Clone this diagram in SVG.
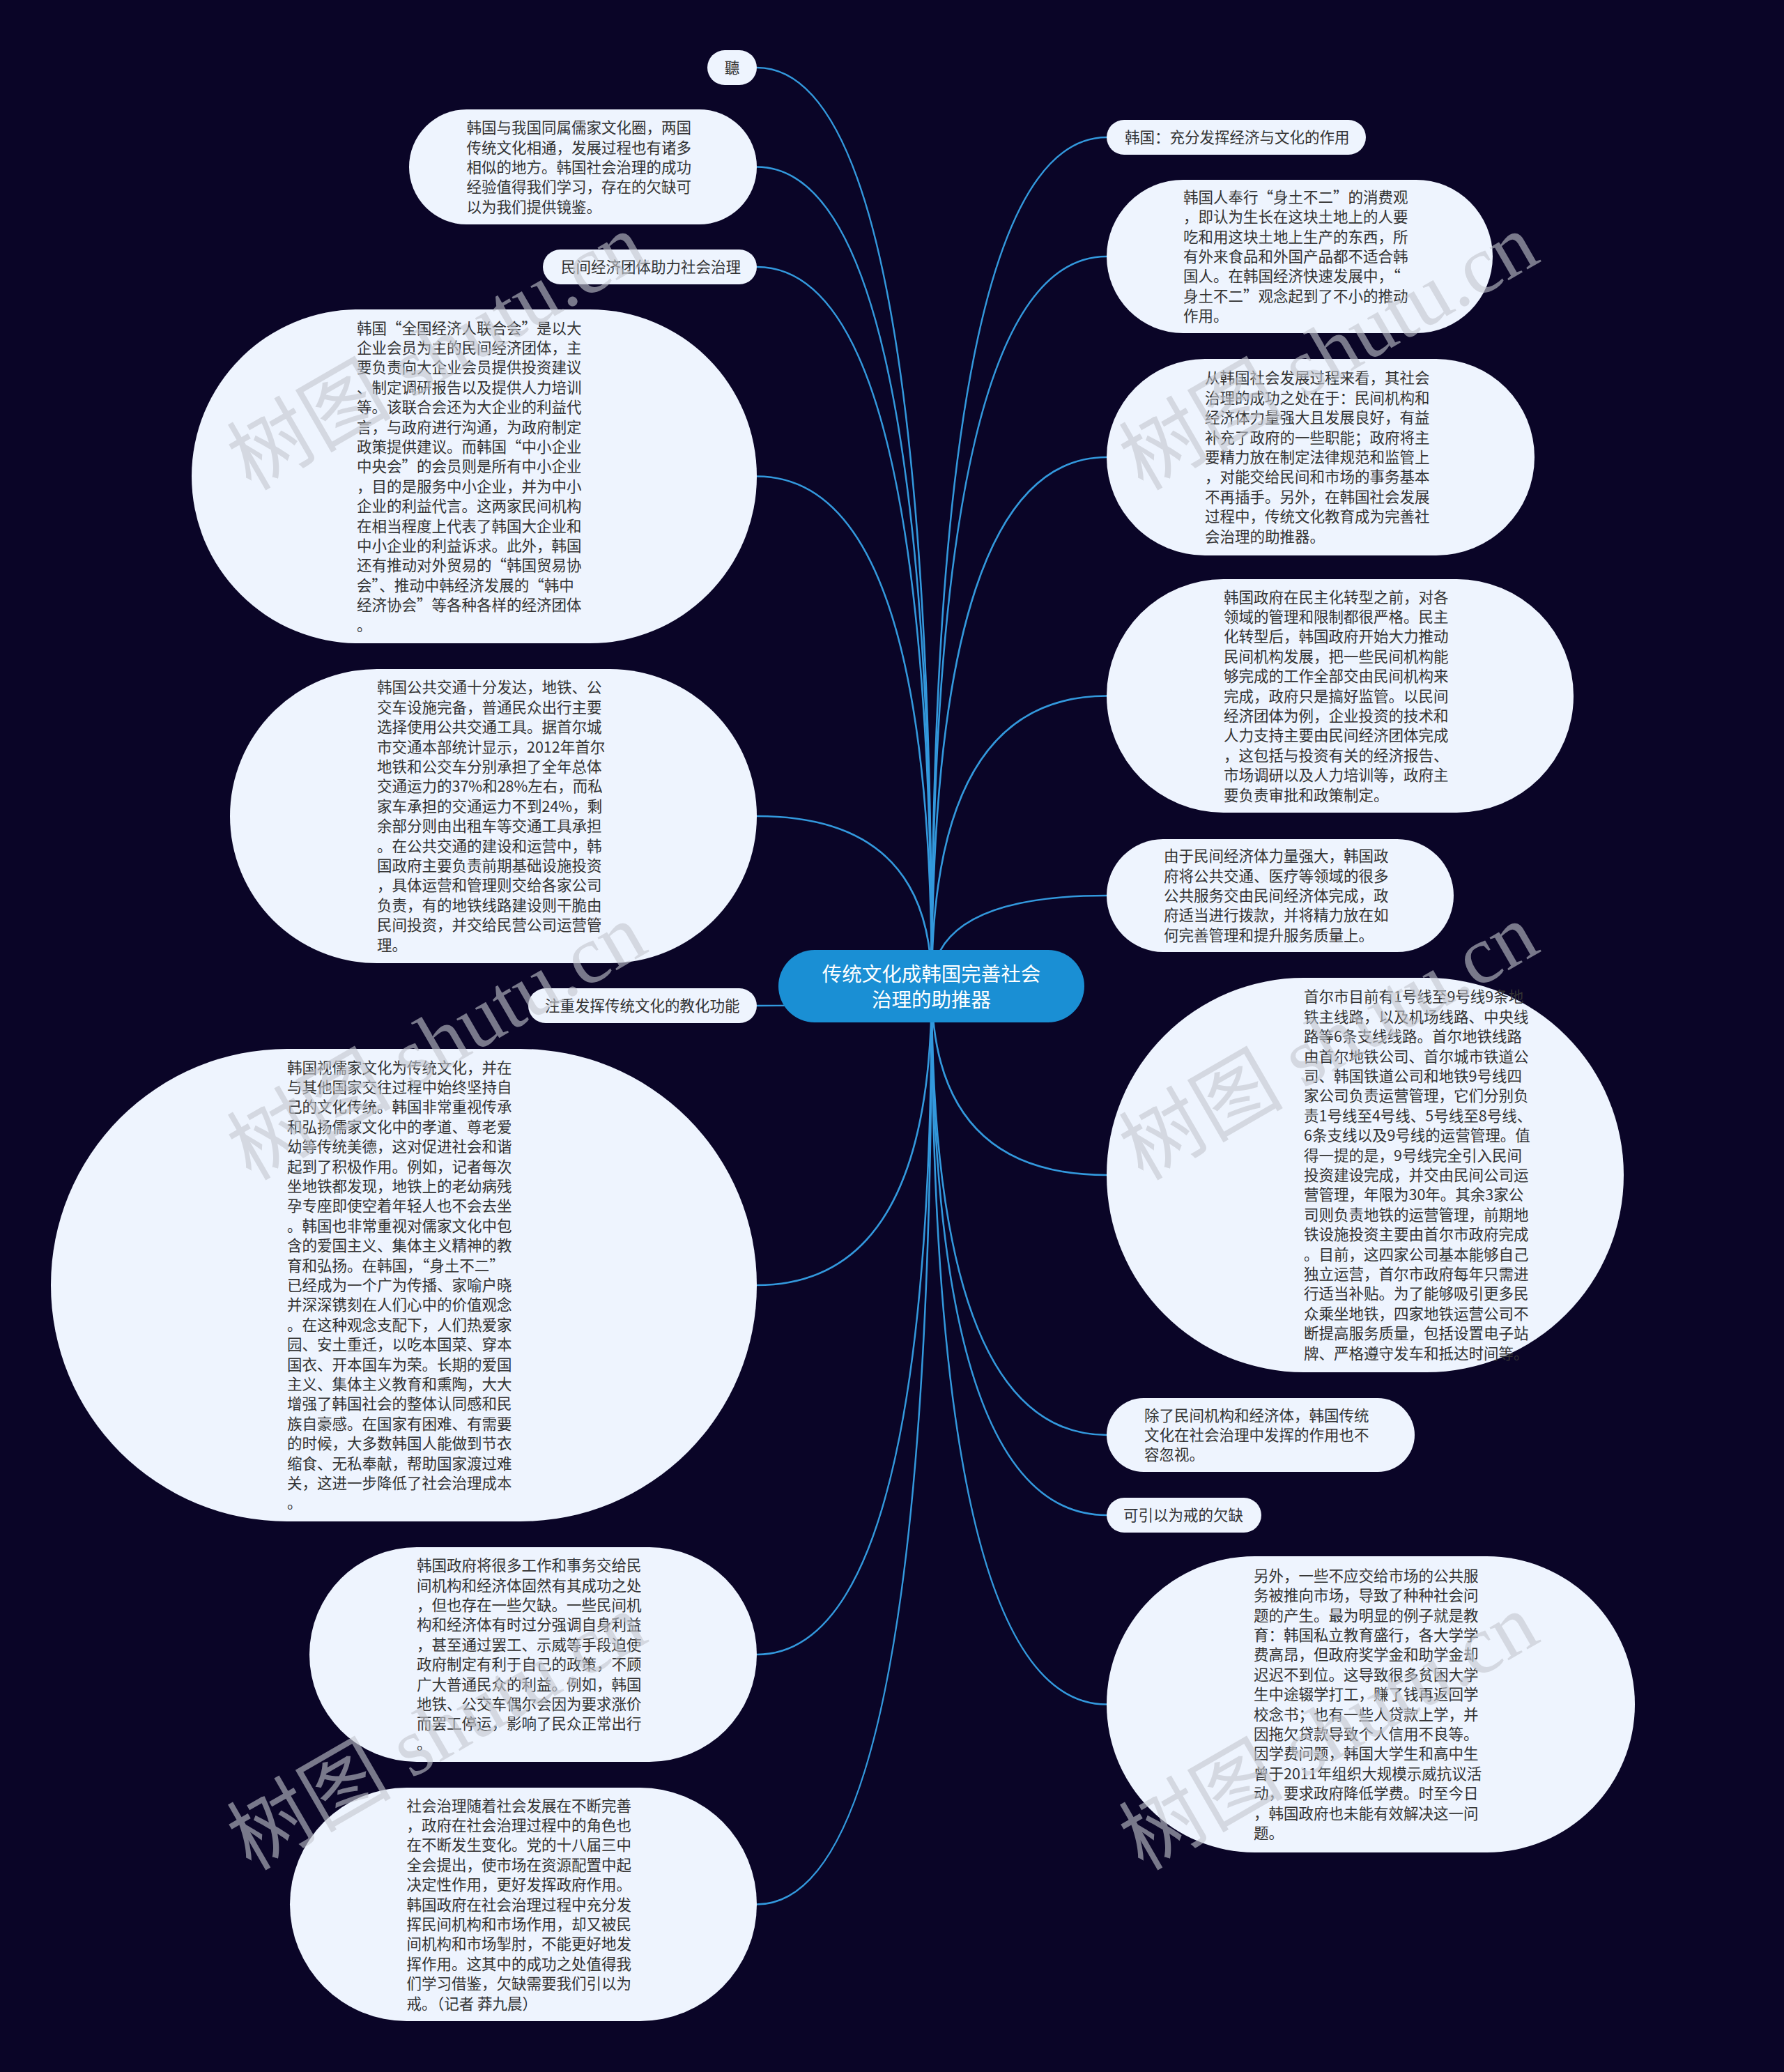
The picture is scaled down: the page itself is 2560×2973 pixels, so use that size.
<svg xmlns="http://www.w3.org/2000/svg" width="2560" height="2973" viewBox="0 0 2560 2973">
<style>
.bg{fill:#0a0527}
.node rect{fill:#eef4fe}
.t{font-family:"Noto Sans CJK SC","Liberation Sans",sans-serif;font-size:21.5px;fill:#333333}
.center rect{fill:#1a8fd4}
.ct{font-family:"Noto Sans CJK SC","Liberation Sans",sans-serif;font-size:28.5px;fill:#ffffff;text-anchor:middle}
.link{fill:none;stroke:#3399dd;stroke-width:2.6}
.wm{font-family:"Liberation Serif","Noto Sans CJK SC",serif;font-size:118px;fill:#c3c6ce;opacity:0.6}
</style>
<rect class="bg" x="0" y="0" width="2560" height="2973"/>
<g id="connectors">
<path class="link" d="M1337,1415 Q1337,97 1086,97"/>
<path class="link" d="M1337,1415 Q1337,239.5 1086,239.5"/>
<path class="link" d="M1337,1415 Q1337,383 1086,383"/>
<path class="link" d="M1337,1415 Q1337,683.5 1086,683.5"/>
<path class="link" d="M1337,1415 Q1337,1171 1086,1171"/>
<path class="link" d="M1337,1415 Q1337,1443 1086,1443"/>
<path class="link" d="M1337,1415 Q1337,1844 1086,1844"/>
<path class="link" d="M1337,1415 Q1337,2374 1086,2374"/>
<path class="link" d="M1337,1415 Q1337,2732.5 1086,2732.5"/>
<path class="link" d="M1337,1415 Q1337,197 1588,197"/>
<path class="link" d="M1337,1415 Q1337,368 1588,368"/>
<path class="link" d="M1337,1415 Q1337,656 1588,656"/>
<path class="link" d="M1337,1415 Q1337,998.5 1588,998.5"/>
<path class="link" d="M1337,1415 Q1337,1285 1588,1285"/>
<path class="link" d="M1337,1415 Q1337,1686 1588,1686"/>
<path class="link" d="M1337,1415 Q1337,2059 1588,2059"/>
<path class="link" d="M1337,1415 Q1337,2174 1588,2174"/>
<path class="link" d="M1337,1415 Q1337,2445.5 1588,2445.5"/>
</g>
<g id="center" class="center">
<rect x="1117" y="1363" width="439" height="104" rx="52"/>
<text class="ct"><tspan x="1336.5" y="1408">传统文化成韩国完善社会</tspan><tspan x="1336.5" y="1445">治理的助推器</tspan></text>
</g>
<g id="n-ting" class="node">
<rect x="1015" y="72" width="71" height="50" rx="25"/>
<text class="t" x="1050.5" y="105" text-anchor="middle">聽</text>
</g>
<g id="n-intro" class="node">
<rect x="587" y="157" width="499" height="165" rx="82.5"/>
<text class="t" transform="translate(669.5,191.3)"><tspan x="0" y="0">韩国与我国同属儒家文化圈，两国</tspan><tspan x="0" y="28.4">传统文化相通，发展过程也有诸多</tspan><tspan x="0" y="56.8">相似的地方。韩国社会治理的成功</tspan><tspan x="0" y="85.2">经验值得我们学习，存在的欠缺可</tspan><tspan x="0" y="113.6">以为我们提供镜鉴。</tspan></text>
</g>
<g id="n-minjian" class="node">
<rect x="779" y="358" width="307" height="50" rx="25"/>
<text class="t" x="805" y="391">民间经济团体助力社会治理</text>
</g>
<g id="n-lianhehui" class="node">
<rect x="275" y="444" width="811" height="479" rx="239.5"/>
<text class="t" transform="translate(512,478.5)"><tspan x="0" y="0">韩国“全国经济人联合会”是以大</tspan><tspan x="0" y="28.4">企业会员为主的民间经济团体，主</tspan><tspan x="0" y="56.8">要负责向大企业会员提供投资建议</tspan><tspan x="0" y="85.2">、制定调研报告以及提供人力培训</tspan><tspan x="0" y="113.6">等。该联合会还为大企业的利益代</tspan><tspan x="0" y="142">言，与政府进行沟通，为政府制定</tspan><tspan x="0" y="170.4">政策提供建议。而韩国“中小企业</tspan><tspan x="0" y="198.8">中央会”的会员则是所有中小企业</tspan><tspan x="0" y="227.2">，目的是服务中小企业，并为中小</tspan><tspan x="0" y="255.6">企业的利益代言。这两家民间机构</tspan><tspan x="0" y="284">在相当程度上代表了韩国大企业和</tspan><tspan x="0" y="312.4">中小企业的利益诉求。此外，韩国</tspan><tspan x="0" y="340.8">还有推动对外贸易的“韩国贸易协</tspan><tspan x="0" y="369.2">会”、推动中韩经济发展的“韩中</tspan><tspan x="0" y="397.6">经济协会”等各种各样的经济团体</tspan><tspan x="0" y="426">。</tspan></text>
</g>
<g id="n-jiaotong" class="node">
<rect x="330" y="960" width="756" height="422" rx="211"/>
<text class="t" transform="translate(541,994.4)"><tspan x="0" y="0">韩国公共交通十分发达，地铁、公</tspan><tspan x="0" y="28.4">交车设施完备，普通民众出行主要</tspan><tspan x="0" y="56.8">选择使用公共交通工具。据首尔城</tspan><tspan x="0" y="85.2">市交通本部统计显示，2012年首尔</tspan><tspan x="0" y="113.6">地铁和公交车分别承担了全年总体</tspan><tspan x="0" y="142">交通运力的37%和28%左右，而私</tspan><tspan x="0" y="170.4">家车承担的交通运力不到24%，剩</tspan><tspan x="0" y="198.8">余部分则由出租车等交通工具承担</tspan><tspan x="0" y="227.2">。在公共交通的建设和运营中，韩</tspan><tspan x="0" y="255.6">国政府主要负责前期基础设施投资</tspan><tspan x="0" y="284">，具体运营和管理则交给各家公司</tspan><tspan x="0" y="312.4">负责，有的地铁线路建设则干脆由</tspan><tspan x="0" y="340.8">民间投资，并交给民营公司运营管</tspan><tspan x="0" y="369.2">理。</tspan></text>
</g>
<g id="n-jiaohua" class="node">
<rect x="758" y="1418" width="328" height="50" rx="25"/>
<text class="t" x="782" y="1451">注重发挥传统文化的教化功能</text>
</g>
<g id="n-rujia" class="node">
<rect x="73" y="1505" width="1013" height="678" rx="339"/>
<text class="t" transform="translate(412,1539.6)"><tspan x="0" y="0">韩国视儒家文化为传统文化，并在</tspan><tspan x="0" y="28.4">与其他国家交往过程中始终坚持自</tspan><tspan x="0" y="56.8">己的文化传统。韩国非常重视传承</tspan><tspan x="0" y="85.2">和弘扬儒家文化中的孝道、尊老爱</tspan><tspan x="0" y="113.6">幼等传统美德，这对促进社会和谐</tspan><tspan x="0" y="142">起到了积极作用。例如，记者每次</tspan><tspan x="0" y="170.4">坐地铁都发现，地铁上的老幼病残</tspan><tspan x="0" y="198.8">孕专座即使空着年轻人也不会去坐</tspan><tspan x="0" y="227.2">。韩国也非常重视对儒家文化中包</tspan><tspan x="0" y="255.6">含的爱国主义、集体主义精神的教</tspan><tspan x="0" y="284">育和弘扬。在韩国，“身土不二”</tspan><tspan x="0" y="312.4">已经成为一个广为传播、家喻户晓</tspan><tspan x="0" y="340.8">并深深镌刻在人们心中的价值观念</tspan><tspan x="0" y="369.2">。在这种观念支配下，人们热爱家</tspan><tspan x="0" y="397.6">园、安土重迁，以吃本国菜、穿本</tspan><tspan x="0" y="426">国衣、开本国车为荣。长期的爱国</tspan><tspan x="0" y="454.4">主义、集体主义教育和熏陶，大大</tspan><tspan x="0" y="482.8">增强了韩国社会的整体认同感和民</tspan><tspan x="0" y="511.2">族自豪感。在国家有困难、有需要</tspan><tspan x="0" y="539.6">的时候，大多数韩国人能做到节衣</tspan><tspan x="0" y="568">缩食、无私奉献，帮助国家渡过难</tspan><tspan x="0" y="596.4">关，这进一步降低了社会治理成本</tspan><tspan x="0" y="624.8">。</tspan></text>
</g>
<g id="n-qianque1" class="node">
<rect x="444" y="2220" width="642" height="308" rx="154"/>
<text class="t" transform="translate(598,2254.2)"><tspan x="0" y="0">韩国政府将很多工作和事务交给民</tspan><tspan x="0" y="28.4">间机构和经济体固然有其成功之处</tspan><tspan x="0" y="56.8">，但也存在一些欠缺。一些民间机</tspan><tspan x="0" y="85.2">构和经济体有时过分强调自身利益</tspan><tspan x="0" y="113.6">，甚至通过罢工、示威等手段迫使</tspan><tspan x="0" y="142">政府制定有利于自己的政策，不顾</tspan><tspan x="0" y="170.4">广大普通民众的利益。例如，韩国</tspan><tspan x="0" y="198.8">地铁、公交车偶尔会因为要求涨价</tspan><tspan x="0" y="227.2">而罢工停运，影响了民众正常出行</tspan><tspan x="0" y="255.6">。</tspan></text>
</g>
<g id="n-jielun" class="node">
<rect x="416" y="2565" width="670" height="335" rx="167.5"/>
<text class="t" transform="translate(583.5,2598.5)"><tspan x="0" y="0">社会治理随着社会发展在不断完善</tspan><tspan x="0" y="28.4">，政府在社会治理过程中的角色也</tspan><tspan x="0" y="56.8">在不断发生变化。党的十八届三中</tspan><tspan x="0" y="85.2">全会提出，使市场在资源配置中起</tspan><tspan x="0" y="113.6">决定性作用，更好发挥政府作用。</tspan><tspan x="0" y="142">韩国政府在社会治理过程中充分发</tspan><tspan x="0" y="170.4">挥民间机构和市场作用，却又被民</tspan><tspan x="0" y="198.8">间机构和市场掣肘，不能更好地发</tspan><tspan x="0" y="227.2">挥作用。这其中的成功之处值得我</tspan><tspan x="0" y="255.6">们学习借鉴，欠缺需要我们引以为</tspan><tspan x="0" y="284">戒。（记者 莽九晨）</tspan></text>
</g>
<g id="n-hanguo" class="node">
<rect x="1588" y="172" width="372" height="50" rx="25"/>
<text class="t" x="1614" y="205">韩国：充分发挥经济与文化的作用</text>
</g>
<g id="n-shentu" class="node">
<rect x="1588" y="258" width="554" height="220" rx="110"/>
<text class="t" transform="translate(1698,290.8)"><tspan x="0" y="0">韩国人奉行“身土不二”的消费观</tspan><tspan x="0" y="28.4">，即认为生长在这块土地上的人要</tspan><tspan x="0" y="56.8">吃和用这块土地上生产的东西，所</tspan><tspan x="0" y="85.2">有外来食品和外国产品都不适合韩</tspan><tspan x="0" y="113.6">国人。在韩国经济快速发展中，“</tspan><tspan x="0" y="142">身土不二”观念起到了不小的推动</tspan><tspan x="0" y="170.4">作用。</tspan></text>
</g>
<g id="n-chenggong" class="node">
<rect x="1588" y="515" width="614" height="282" rx="141"/>
<text class="t" transform="translate(1729,550.4)"><tspan x="0" y="0">从韩国社会发展过程来看，其社会</tspan><tspan x="0" y="28.4">治理的成功之处在于：民间机构和</tspan><tspan x="0" y="56.8">经济体力量强大且发展良好，有益</tspan><tspan x="0" y="85.2">补充了政府的一些职能；政府将主</tspan><tspan x="0" y="113.6">要精力放在制定法律规范和监管上</tspan><tspan x="0" y="142">，对能交给民间和市场的事务基本</tspan><tspan x="0" y="170.4">不再插手。另外，在韩国社会发展</tspan><tspan x="0" y="198.8">过程中，传统文化教育成为完善社</tspan><tspan x="0" y="227.2">会治理的助推器。</tspan></text>
</g>
<g id="n-minzhuhua" class="node">
<rect x="1588" y="831" width="670" height="335" rx="167.5"/>
<text class="t" transform="translate(1756,864.5)"><tspan x="0" y="0">韩国政府在民主化转型之前，对各</tspan><tspan x="0" y="28.4">领域的管理和限制都很严格。民主</tspan><tspan x="0" y="56.8">化转型后，韩国政府开始大力推动</tspan><tspan x="0" y="85.2">民间机构发展，把一些民间机构能</tspan><tspan x="0" y="113.6">够完成的工作全部交由民间机构来</tspan><tspan x="0" y="142">完成，政府只是搞好监管。以民间</tspan><tspan x="0" y="170.4">经济团体为例，企业投资的技术和</tspan><tspan x="0" y="198.8">人力支持主要由民间经济团体完成</tspan><tspan x="0" y="227.2">，这包括与投资有关的经济报告、</tspan><tspan x="0" y="255.6">市场调研以及人力培训等，政府主</tspan><tspan x="0" y="284">要负责审批和政策制定。</tspan></text>
</g>
<g id="n-gonggong" class="node">
<rect x="1588" y="1204" width="498" height="162" rx="81"/>
<text class="t" transform="translate(1670,1236.2)"><tspan x="0" y="0">由于民间经济体力量强大，韩国政</tspan><tspan x="0" y="28.4">府将公共交通、医疗等领域的很多</tspan><tspan x="0" y="56.8">公共服务交由民间经济体完成，政</tspan><tspan x="0" y="85.2">府适当进行拨款，并将精力放在如</tspan><tspan x="0" y="113.6">何完善管理和提升服务质量上。</tspan></text>
</g>
<g id="n-ditie" class="node">
<rect x="1588" y="1403" width="742" height="566" rx="283"/>
<text class="t" transform="translate(1871,1438.4)"><tspan x="0" y="0">首尔市目前有1号线至9号线9条地</tspan><tspan x="0" y="28.4">铁主线路，以及机场线路、中央线</tspan><tspan x="0" y="56.8">路等6条支线线路。首尔地铁线路</tspan><tspan x="0" y="85.2">由首尔地铁公司、首尔城市铁道公</tspan><tspan x="0" y="113.6">司、韩国铁道公司和地铁9号线四</tspan><tspan x="0" y="142">家公司负责运营管理，它们分别负</tspan><tspan x="0" y="170.4">责1号线至4号线、5号线至8号线、</tspan><tspan x="0" y="198.8">6条支线以及9号线的运营管理。值</tspan><tspan x="0" y="227.2">得一提的是，9号线完全引入民间</tspan><tspan x="0" y="255.6">投资建设完成，并交由民间公司运</tspan><tspan x="0" y="284">营管理，年限为30年。其余3家公</tspan><tspan x="0" y="312.4">司则负责地铁的运营管理，前期地</tspan><tspan x="0" y="340.8">铁设施投资主要由首尔市政府完成</tspan><tspan x="0" y="369.2">。目前，这四家公司基本能够自己</tspan><tspan x="0" y="397.6">独立运营，首尔市政府每年只需进</tspan><tspan x="0" y="426">行适当补贴。为了能够吸引更多民</tspan><tspan x="0" y="454.4">众乘坐地铁，四家地铁运营公司不</tspan><tspan x="0" y="482.8">断提高服务质量，包括设置电子站</tspan><tspan x="0" y="511.2">牌、严格遵守发车和抵达时间等。</tspan></text>
</g>
<g id="n-wenhua" class="node">
<rect x="1588" y="2006" width="442" height="106" rx="53"/>
<text class="t" transform="translate(1642,2038.6)"><tspan x="0" y="0">除了民间机构和经济体，韩国传统</tspan><tspan x="0" y="28.4">文化在社会治理中发挥的作用也不</tspan><tspan x="0" y="56.8">容忽视。</tspan></text>
</g>
<g id="n-qianque" class="node">
<rect x="1588" y="2149" width="222" height="50" rx="25"/>
<text class="t" x="1612" y="2182">可引以为戒的欠缺</text>
</g>
<g id="n-jiaoyu" class="node">
<rect x="1588" y="2233" width="758" height="425" rx="212.5"/>
<text class="t" transform="translate(1799,2268.9)"><tspan x="0" y="0">另外，一些不应交给市场的公共服</tspan><tspan x="0" y="28.4">务被推向市场，导致了种种社会问</tspan><tspan x="0" y="56.8">题的产生。最为明显的例子就是教</tspan><tspan x="0" y="85.2">育：韩国私立教育盛行，各大学学</tspan><tspan x="0" y="113.6">费高昂，但政府奖学金和助学金却</tspan><tspan x="0" y="142">迟迟不到位。这导致很多贫困大学</tspan><tspan x="0" y="170.4">生中途辍学打工，赚了钱再返回学</tspan><tspan x="0" y="198.8">校念书；也有一些人贷款上学，并</tspan><tspan x="0" y="227.2">因拖欠贷款导致个人信用不良等。</tspan><tspan x="0" y="255.6">因学费问题，韩国大学生和高中生</tspan><tspan x="0" y="284">曾于2011年组织大规模示威抗议活</tspan><tspan x="0" y="312.4">动，要求政府降低学费。时至今日</tspan><tspan x="0" y="340.8">，韩国政府也未能有效解决这一问</tspan><tspan x="0" y="369.2">题。</tspan></text>
</g>
<g id="watermark">
<text class="wm" transform="translate(360,705) rotate(-30)">树图 shutu.cn</text>
<text class="wm" transform="translate(1640,705) rotate(-30)">树图 shutu.cn</text>
<text class="wm" transform="translate(360,1695) rotate(-30)">树图 shutu.cn</text>
<text class="wm" transform="translate(1640,1695) rotate(-30)">树图 shutu.cn</text>
<text class="wm" transform="translate(360,2685) rotate(-30)">树图 shutu.cn</text>
<text class="wm" transform="translate(1640,2685) rotate(-30)">树图 shutu.cn</text>
</g>
</svg>
